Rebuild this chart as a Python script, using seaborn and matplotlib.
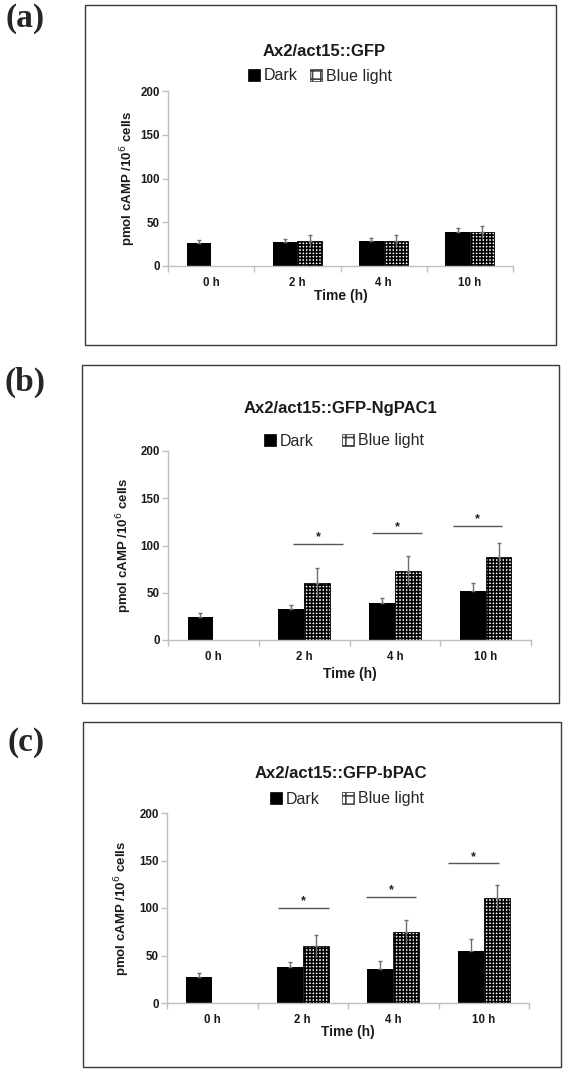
import numpy as np
import pandas as pd
import matplotlib
matplotlib.use("Agg")
import matplotlib.pyplot as plt
import seaborn as sns
from matplotlib.patches import Rectangle, Patch

# ---------------- data ----------------
times = ["0 h", "2 h", "4 h", "10 h"]
conditions = ["Dark", "Blue light"]
titles = ["Ax2/act15::GFP", "Ax2/act15::GFP-NgPAC1", "Ax2/act15::GFP-bPAC"]
panel_tags = ["(a)", "(b)", "(c)"]
y_ticks = [0, 50, 100, 150, 200]

gfp_dark = [26, 27.5, 29, 38.5]
gfp_dark_err = [4, 3, 2.5, 5.5]
gfp_blue = [np.nan, 29, 29, 39]
gfp_blue_err = [np.nan, 6, 6, 7]

ngpac_dark = [24.5, 33, 39, 51.5]
ngpac_dark_err = [4.5, 4.5, 5, 8.5]
ngpac_blue = [np.nan, 60.5, 73.5, 88]
ngpac_blue_err = [np.nan, 15.5, 15, 14.5]

bpac_dark = [27.5, 38, 36, 55]
bpac_dark_err = [4.5, 5, 8, 12]
bpac_blue = [np.nan, 60, 75, 111]
bpac_blue_err = [np.nan, 12, 12, 13]

sig_times = ["2 h", "4 h", "10 h"]
gfp_sig_y = []
ngpac_sig_y = [101.5, 113, 120.5]
bpac_sig_y = [100, 111.5, 147]

# ---------------- style ----------------
sns.set_style("white")
plt.rcParams["font.family"] = ["Liberation Sans", "DejaVu Sans"]
plt.rcParams["hatch.linewidth"] = 1.2

W, H = 566, 1072
fig = plt.figure(figsize=(W / 100, H / 100), dpi=100)


def fx(px):
    return px / W


def fy(py):
    return 1 - py / H


# layout (pixels)
layouts = [
    dict(frame=(85, 5, 556, 345), axes=(168, 91, 513, 266), title=(324, 52),
         legend=(320, 76), tag=(25, 19), ylab_off=40, xlab=296, colsp=0.8,
         sig_span=[]),
    dict(frame=(82, 365, 559, 703), axes=(168, 451, 531, 640), title=(340, 408),
         legend=(344, 441), tag=(25, 382), ylab_off=44, xlab=674, colsp=1.8,
         sig_span=[(-0.12, 0.43), (-0.25, 0.30), (-0.36, 0.18)]),
    dict(frame=(83, 722, 561, 1067), axes=(167, 813, 529, 1003), title=(341, 773),
         legend=(347, 799), tag=(26, 742), ylab_off=45, xlab=1032, colsp=1.4,
         sig_span=[(-0.27, 0.29), (-0.30, 0.25), (-0.39, 0.17)]),
]

panels = [
    (gfp_dark, gfp_dark_err, gfp_blue, gfp_blue_err, gfp_sig_y),
    (ngpac_dark, ngpac_dark_err, ngpac_blue, ngpac_blue_err, ngpac_sig_y),
    (bpac_dark, bpac_dark_err, bpac_blue, bpac_blue_err, bpac_sig_y),
]

spine_col = "#bfbfbf"
err_col = "#6e6e6e"

for k, (lay, (dk, dke, bl, ble, sig_y)) in enumerate(zip(layouts, panels)):
    # outer frame
    x0, y0, x1, y1 = lay["frame"]
    fig.add_artist(Rectangle((fx(x0), fy(y1)), (x1 - x0) / W, (y1 - y0) / H,
                             transform=fig.transFigure, fill=False,
                             edgecolor="#3a3a3a", linewidth=1.0))
    fig.text(fx(lay["tag"][0]), fy(lay["tag"][1]), panel_tags[k],
             family=["Liberation Serif", "DejaVu Serif"], fontweight="bold",
             fontsize=24, ha="center", va="center")

    l, t, r, b = lay["axes"]
    ax = fig.add_axes([fx(l), fy(b), (r - l) / W, (b - t) / H])

    df = pd.DataFrame({
        "time": times * 2,
        "condition": [conditions[0]] * 4 + [conditions[1]] * 4,
        "value": list(dk) + list(bl),
    })
    sns.barplot(data=df, x="time", y="value", hue="condition", order=times,
                hue_order=conditions,
                palette={"Dark": "black", "Blue light": "white"},
                width=0.57, errorbar=None, ax=ax, legend=False,
                saturation=1, linewidth=0)

    # hatch blue-light bars and add error bars
    errs = [dke, ble]
    for ci, cont in enumerate(ax.containers[:2]):
        xs, ys, es = [], [], []
        for p in cont.patches:
            h = p.get_height()
            xc = p.get_x() + p.get_width() / 2
            cat = int(round(xc))
            e = errs[ci][cat]
            if np.isnan(h) or np.isnan(e):
                continue
            if ci == 1:
                p.set_hatch("+++++")
                p.set_edgecolor("black")
                p.set_linewidth(0.6)
            xs.append(xc)
            ys.append(h)
            es.append(e)
        xs, ys, es = np.array(xs), np.array(ys), np.array(es)
        lower = es if ci == 1 else np.zeros_like(es)
        ax.errorbar(xs, ys, yerr=[lower, np.zeros_like(es)], fmt="none",
                    ecolor=err_col, elinewidth=1.0, capsize=0, zorder=3)
        ax.errorbar(xs, ys, yerr=[np.zeros_like(es), es], fmt="none",
                    ecolor=err_col, elinewidth=1.0, capsize=1.6, capthick=1.0,
                    zorder=3)

    # significance lines
    for st, sy, (s0, s1) in zip(sig_times, sig_y, lay["sig_span"]):
        c = times.index(st)
        ax.plot([c + s0, c + s1], [sy, sy], color="#555555", lw=1.0,
                solid_capstyle="butt")
        ax.text(c + (s0 + s1) / 2, sy + 0.5, "*", ha="center", va="bottom",
                fontsize=9, fontweight="bold", color="#222222")

    # axes styling
    ax.set_xlim(-0.5, 3.5)
    ax.set_ylim(0, 200)
    ax.set_yticks(y_ticks)
    ax.set_yticklabels([str(v) for v in y_ticks])
    ax.set_xticks(range(4))
    ax.set_xticklabels(times)
    ax.set_xticks(np.arange(-0.5, 4, 1.0), minor=True)
    for s in ["top", "right"]:
        ax.spines[s].set_visible(False)
    for s in ["left", "bottom"]:
        ax.spines[s].set_color(spine_col)
        ax.spines[s].set_linewidth(1.0)
    ax.tick_params(axis="y", which="major", left=True, length=4, width=1.0,
                   color=spine_col, pad=2, labelsize=8.3, labelcolor="#1a1a1a")
    ax.tick_params(axis="x", which="major", bottom=True, length=0, pad=8,
                   labelsize=8.3, labelcolor="#1a1a1a")
    ax.tick_params(axis="x", which="minor", bottom=True, length=4, width=1.0,
                   color=spine_col)
    for lab in ax.get_xticklabels() + ax.get_yticklabels():
        lab.set_fontweight("bold")
    ax.grid(False)
    ax.patch.set_alpha(0)

    axw = r - l
    axh = b - t
    ax.set_ylabel("pmol cAMP /10$^{6}$ cells", fontsize=9.5, fontweight="bold",
                  color="#1a1a1a")
    ax.yaxis.set_label_coords(-lay["ylab_off"] / axw, 0.5)
    ax.yaxis.label.set_verticalalignment("center")
    ax.set_xlabel("Time (h)", fontsize=10, fontweight="bold", color="#1a1a1a")
    ax.xaxis.set_label_coords(0.5, -(lay["xlab"] - b) / axh)
    ax.xaxis.label.set_verticalalignment("center")

    # title and legend
    fig.text(fx(lay["title"][0]), fy(lay["title"][1]), titles[k],
             fontsize=12, fontweight="bold", ha="center", va="center",
             color="#1a1a1a")
    handles = [Patch(facecolor="black", edgecolor="black", linewidth=0.5),
               Patch(facecolor="white", edgecolor="#444444", hatch="++",
                     linewidth=0.6)]
    fig.legend(handles, conditions, loc="center",
               bbox_to_anchor=(fx(lay["legend"][0]), fy(lay["legend"][1])),
               ncol=2, frameon=False, fontsize=11.5, handlelength=0.75,
               handleheight=0.75, handletextpad=0.25,
               columnspacing=lay["colsp"], borderpad=0, borderaxespad=0)

fig.savefig("out.png", dpi=100)
